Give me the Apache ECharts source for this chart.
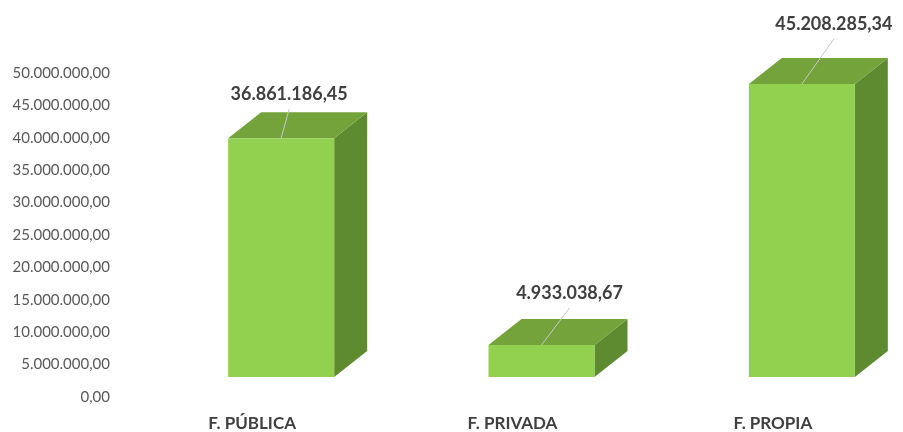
<!DOCTYPE html>
<html lang="es">
<head>
<meta charset="UTF-8">
<title>Financiación</title>
<script src="https://cdn.jsdelivr.net/npm/echarts@6/dist/echarts.min.js"></script>
<style>
  body { margin: 0; background: #fff; }
  #main { width: 903px; height: 432px; }
</style>
</head>
<body>
<div id="main"></div>
<script>
// datos del gráfico
var categorias = ['F. PÚBLICA', 'F. PRIVADA', 'F. PROPIA'];
var valores = [36861186.45, 4933038.67, 45208285.34];
var ejeMax = 50000000;
var ejeIntervalo = 5000000;

// desplazamientos de las etiquetas (px) respecto al borde superior frontal
var etiquetaDesp = [[8, -44], [28, -52], [32, -60]];

function formato(v, dec) {
  var partes = v.toFixed(dec).split('.');
  var ent = partes[0].replace(/\B(?=(\d{3})+(?!\d))/g, '.');
  return dec ? ent + ',' + partes[1] : ent;
}

var chart = echarts.init(document.getElementById('main'));

function caja(params, api) {
  var i = params.dataIndex;
  var base = api.coord([api.value(0), 0]);
  var tope = api.coord([api.value(0), api.value(1)]);
  var ancho = 106, dx = 33, dy = -26, bajar = -20;
  var x0 = base[0] + 29 - ancho / 2, x1 = x0 + ancho;
  var y0 = base[1] + bajar, y1 = tope[1] + bajar;
  var d = etiquetaDesp[i];
  var cx = (x0 + x1) / 2;
  return {
    type: 'group',
    children: [
      { type: 'polygon', shape: { points: [[x1, y0], [x1 + dx, y0 + dy], [x1 + dx, y1 + dy], [x1, y1]] },
        style: { fill: '#5F8B30' } },
      { type: 'polygon', shape: { points: [[x0, y1], [x1, y1], [x1 + dx, y1 + dy], [x0 + dx, y1 + dy]] },
        style: { fill: '#74A23B' } },
      { type: 'rect', shape: { x: x0, y: y1, width: ancho, height: y0 - y1 },
        style: { fill: '#92D050' } },
      { type: 'line', shape: { x1: cx, y1: y1, x2: cx + d[0], y2: y1 + d[1] + 15 },
        style: { stroke: '#C8C8C8', lineWidth: 1 } },
      { type: 'text', x: cx + d[0], y: y1 + d[1],
        style: { text: formato(api.value(1), 2), fill: '#404040', font: 'bold 18px Lato',
                 align: 'center', verticalAlign: 'middle' } }
    ]
  };
}

var option = {
  animation: false,
  grid: { left: 122, right: -6, top: 73, bottom: 34, containLabel: false },
  xAxis: {
    type: 'category',
    data: categorias,
    axisLine: { show: false },
    axisTick: { show: false },
    axisLabel: { color: '#404040', fontFamily: 'Lato', fontWeight: 'bold', fontSize: 17, margin: 18 }
  },
  yAxis: {
    type: 'value',
    min: 0,
    max: ejeMax,
    interval: ejeIntervalo,
    splitLine: { show: false },
    axisLine: { show: false },
    axisTick: { show: false },
    axisLabel: {
      color: '#595959', fontFamily: 'Lato', fontSize: 15, margin: 12,
      formatter: function (v) { return formato(v, 2); }
    }
  },
  series: [{
    type: 'custom',
    renderItem: caja,
    encode: { x: 0, y: 1 },
    data: valores.map(function (v, i) { return [i, v]; })
  }]
};
chart.setOption(option);
</script>
</body>
</html>
